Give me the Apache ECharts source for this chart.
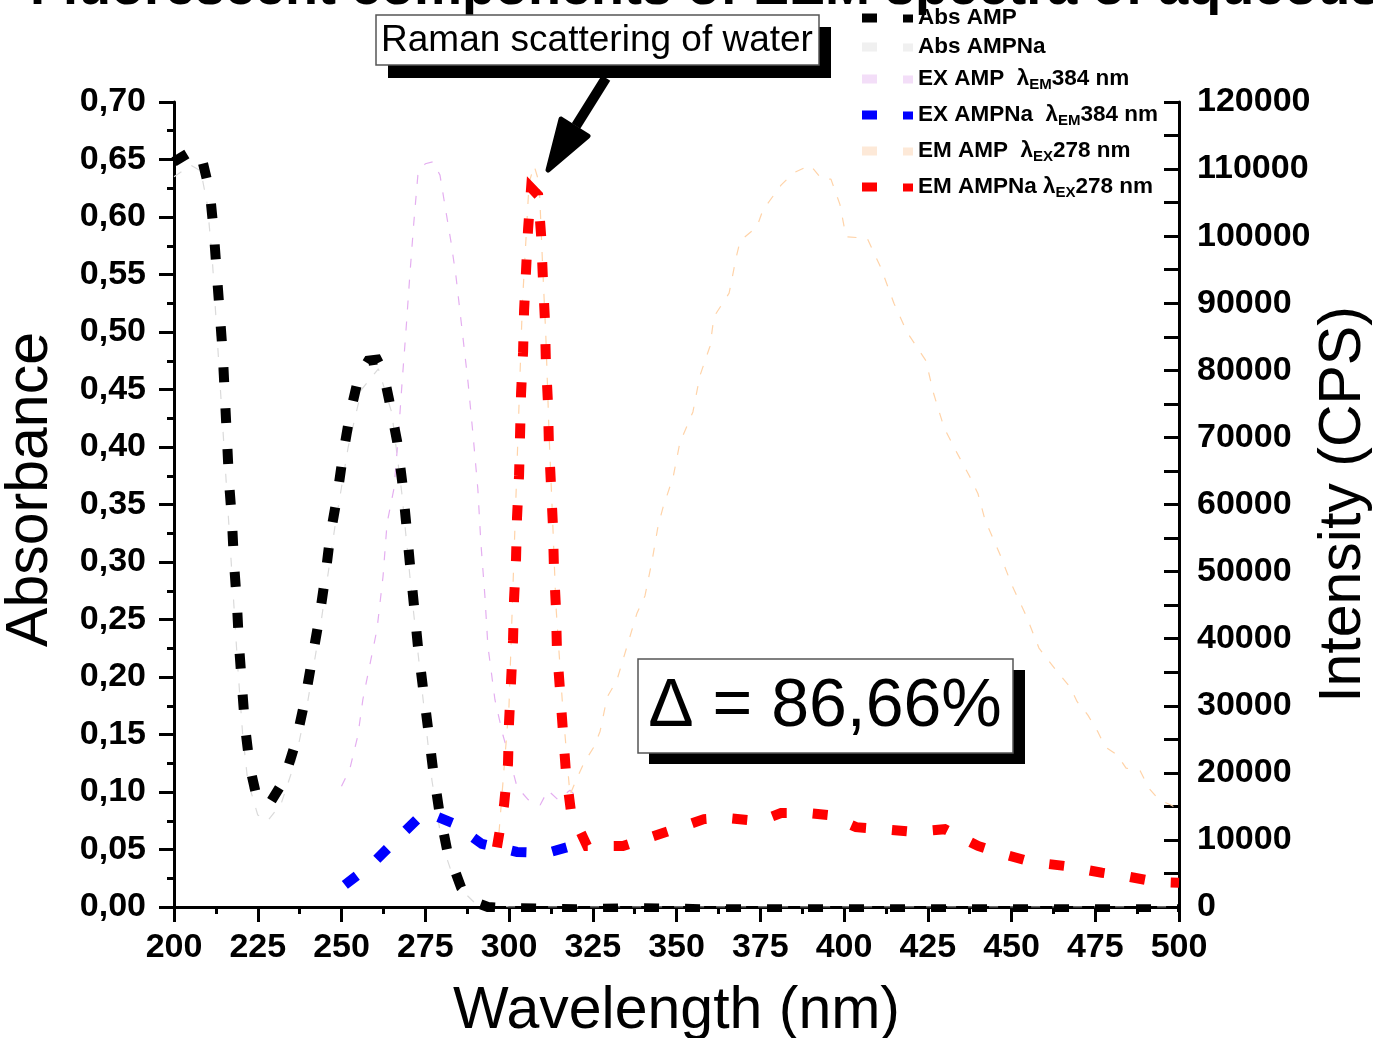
<!DOCTYPE html>
<html><head><meta charset="utf-8">
<script src="https://cdn.jsdelivr.net/npm/echarts@6/dist/echarts.min.js"></script>
<style>html,body{margin:0;padding:0;background:#fff}#c{width:1373px;height:1038px}</style>
</head><body><div id="c"></div>
<script>
// ---- data: [wavelength nm, value] ----
const absAMP = [[200,0.648],[204,0.655],[207.8,0.657],[210.7,0.622],[211.9,0.586],[212.8,0.550],[213.7,0.515],[214.6,0.479],[215.2,0.443],[215.8,0.408],[216.4,0.371],[217.3,0.336],[217.9,0.300],[218.8,0.263],[219.4,0.228],[220.3,0.192],[221.2,0.157],[222.7,0.121],[224.5,0.098],[226.3,0.089],[229,0.092],[232.8,0.110],[236.4,0.144],[239.1,0.180],[241.2,0.215],[243.3,0.250],[245.1,0.286],[246.6,0.322],[248.7,0.357],[250.4,0.392],[252.5,0.428],[255.2,0.462],[258,0.475],[260.6,0.476],[262.5,0.465],[264.2,0.441],[266.6,0.405],[268.1,0.370],[269.3,0.334],[270.4,0.299],[271.6,0.263],[272.8,0.227],[274.3,0.191],[275.8,0.156],[277.3,0.120],[279.1,0.085],[281.5,0.050],[285.7,0.017],[290,0.004],[293.7,0.0],[300,-0.001],[320,-0.002],[340,-0.001],[360,-0.002],[380,-0.002],[400,-0.002],[420,-0.002],[440,-0.002],[460,-0.002],[480,-0.002],[500,-0.002]];
const absAMPNa = [[200,0.635],[205,0.645],[208,0.640],[210,0.610],[211.5,0.560],[213,0.490],[214.5,0.420],[216,0.350],[217.5,0.280],[219,0.210],[220.5,0.150],[222,0.110],[225,0.080],[228,0.075],[232,0.090],[236,0.125],[240,0.180],[244,0.250],[248,0.330],[252,0.400],[256,0.450],[261,0.468],[265,0.430],[268,0.360],[271,0.270],[274,0.190],[277,0.110],[280,0.055],[284,0.020],[290,0.003],[300,0.0],[350,0.0],[400,0.0],[450,0.0],[500,0.0]];
const exAMP = [[250,18000],[252.5,20600],[254.9,25600],[256.4,31000],[258.5,36200],[260.6,41400],[262.4,49300],[263.6,57200],[265.7,62500],[267,70400],[268.1,78300],[269.3,86300],[270.4,94200],[271.6,102100],[272.8,109100],[275,110800],[277.3,111100],[279.4,109100],[280.9,104500],[282.7,99100],[284.2,93900],[286,86000],[287.8,78100],[289.3,70200],[290.7,62300],[291.6,54300],[292.8,46400],[293.7,38900],[295.8,30900],[298.2,25600],[300.3,21900],[302.4,17900],[305.7,16000],[309.3,15200],[311.6,17400],[314.6,16000],[318.2,17400],[321.2,16000]];
const exAMPNa = [[251,3300],[259.1,6400],[267.5,10600],[274.9,14200],[283.3,12500],[291.9,9400],[302.4,8200],[311.3,8050],[320.9,9400]];
const emAMP = [[297,11000],[300,30000],[302,60000],[304,90000],[306,108000],[307.5,110500],[309,108000],[310,96000],[311,85000],[312,70000],[313,58000],[314,45000],[316,30000],[318.2,16700],[320,18900],[322.4,21500],[325.4,23900],[327.2,26200],[329.3,31300],[332.2,33800],[335.2,38800],[338.2,43800],[340.6,46400],[342.7,51600],[344.5,56800],[346,59600],[349,64100],[351,69200],[354.9,73800],[357,79200],[360,83600],[361.2,88000],[365.7,91500],[367.8,96800],[369,99300],[374,101400],[375.8,103900],[381.2,107600],[384.8,109400],[389.9,110600],[393.4,108500],[396.1,108500],[398.8,104700],[400.6,99900],[406.9,99700],[411,95300],[414.9,90000],[418.8,85700],[424.5,81400],[426.6,76800],[429.9,71400],[433.4,68000],[437.6,64100],[440,61600],[442.1,57700],[446.6,52500],[450.1,48000],[454.3,43500],[458.2,38600],[463.9,34900],[467.5,32800],[469.6,30600],[472.8,28600],[475.8,26100],[477.9,23900],[481.5,22700],[484.2,20700],[488.4,20300],[491,17700],[494,16000],[497.6,15200],[500,14500]];
const emAMPNa = [[296.4,8900],[298.5,15100],[299.7,21300],[300,27400],[300.6,33500],[301.2,39700],[301.5,45800],[302.1,51900],[302.4,58100],[303,64300],[303.3,70400],[303.6,76600],[304.2,82700],[304.5,88900],[305.1,95000],[305.7,101100],[306.6,107200],[308.7,106100],[309.6,100000],[310.1,93900],[310.7,87700],[311,81500],[311.6,75400],[311.9,69300],[312.5,63200],[313.1,57000],[313.4,50800],[314,44700],[314.3,38600],[315.2,32500],[316.1,26200],[317,20100],[318.5,14200],[323.3,9100],[334,9100],[342.1,10400],[350.7,11800],[358.2,13100],[364.2,13300],[374.9,12800],[381.2,14000],[389.6,14000],[395.5,13700],[403.6,11900],[411.6,11600],[420.6,11200],[430.1,11600],[440,9100],[448.1,7800],[456.1,6700],[466.3,6100],[477,5100],[485.1,4500],[493.7,3700],[500,3600]];

const seriesNames = ['Abs AMP','Abs AMPNa','EX AMP λEM384 nm','EX AMPNa λEM384 nm','EM AMP λEX278 nm','EM AMPNa λEX278 nm'];
const legendRich = {
  'Abs AMP':'Abs AMP',
  'Abs AMPNa':'Abs AMPNa',
  'EX AMP λEM384 nm':'EX AMP  λ{sub|EM}384 nm',
  'EX AMPNa λEM384 nm':'EX AMPNa  λ{sub|EM}384 nm',
  'EM AMP λEX278 nm':'EM AMP  λ{sub|EX}278 nm',
  'EM AMPNa λEX278 nm':'EM AMPNa λ{sub|EX}278 nm'
};
const titleText = 'Fluorescent components of EEM spectra of aqueous';
const xName = 'Wavelength (nm)', yLeftName = 'Absorbance', yRightName = 'Intensity (CPS)';
const ramanText = 'Raman scattering of water';
const deltaText = 'Δ = 86,66%';

const FONT = 'Liberation Sans, Arial, sans-serif';
const chart = echarts.init(document.getElementById('c'), null, {renderer:'canvas'});

const thick = (color) => ({color, width:10, type:[15,26], cap:'butt', join:'miter'});
const faint = (color) => ({color, width:1.2, type:[9,12]});
const iconPath = 'path://M0,0h15v9h-15z M41,1h10v8h-10z';
const iconColors = {1:'#f0f0f0', 2:'#f3def8', 4:'#fde9d8'};

const axisTxt = {fontFamily:FONT, fontSize:34, fontWeight:'bold', color:'#000'};
const nameTxt = {fontFamily:FONT, fontSize:59, fontWeight:'normal', color:'#000'};
const legendText = {fontFamily:FONT, fontSize:22.5, fontWeight:'bold', color:'#000', lineHeight:24,
  rich:{sub:{fontFamily:FONT, fontSize:15, fontWeight:'bold', color:'#000', lineHeight:20, padding:[11,0,0,0]}}};
const legendBase = {orient:'vertical', left:862, itemWidth:51, itemHeight:9, padding:0, icon:iconPath,
  formatter:(n)=>legendRich[n], textStyle:legendText};
const legendItems = (idx) => idx.map(i=>({name:seriesNames[i], itemStyle: iconColors[i] ? {color:iconColors[i]} : undefined}));

chart.setOption({
  animation:false,
  backgroundColor:'#fff',
  title:{text:titleText, left:30, top:-38, padding:0,
    textStyle:{fontFamily:FONT, fontSize:54, fontWeight:'bold', color:'#000', lineHeight:54}},
  legend:[
    {...legendBase, top:6, itemGap:5, data:legendItems([0,1])},
    {...legendBase, top:66, itemGap:10, data:legendItems([2,3,4,5])}
  ],
  grid:{left:174, right:194, top:102, bottom:131, containLabel:false, outerBoundsMode:'none'},
  xAxis:{type:'value', min:200, max:500, interval:25,
    name:xName, nameLocation:'middle', nameGap:75, nameTextStyle:nameTxt,
    axisLine:{show:true, onZero:false, lineStyle:{color:'#000', width:3}},
    axisTick:{show:true, length:15, lineStyle:{color:'#000', width:3}},
    minorTick:{show:true, splitNumber:2, length:7, lineStyle:{color:'#000', width:3}},
    axisLabel:{...axisTxt, margin:24},
    splitLine:{show:false}
  },
  yAxis:[
    {type:'value', position:'left', min:0, max:0.7, interval:0.05,
      name:yLeftName, nameLocation:'middle', nameGap:114, nameRotate:90,
      nameTextStyle:{...nameTxt, padding:[0,0,0,30]},
      axisLine:{show:true, onZero:false, lineStyle:{color:'#000', width:3}},
      axisTick:{show:true, length:15, lineStyle:{color:'#000', width:3}},
      minorTick:{show:true, splitNumber:2, length:7, lineStyle:{color:'#000', width:3}},
      axisLabel:{...axisTxt, margin:28, formatter:(v)=>v.toFixed(2).replace('.',',')},
      splitLine:{show:false}
    },
    {type:'value', position:'right', min:0, max:120000, interval:10000,
      name:yRightName, nameLocation:'middle', nameGap:135, nameRotate:90, nameMoveOverlap:false, nameTextStyle:nameTxt,
      axisLine:{show:true, onZero:false, lineStyle:{color:'#000', width:3}},
      axisTick:{show:true, inside:true, length:15, lineStyle:{color:'#000', width:3}},
      minorTick:{show:true, splitNumber:2, length:15, lineStyle:{color:'#000', width:3}},
      axisLabel:{...axisTxt, margin:18, formatter:(v)=>String(v)},
      splitLine:{show:false}
    }
  ],
  series:[
    {name:seriesNames[0], type:'line', yAxisIndex:0, data:absAMP, showSymbol:false, symbol:'none', z:6, lineStyle:thick('#000000'), itemStyle:{color:'#000000'}},
    {name:seriesNames[1], type:'line', yAxisIndex:0, data:absAMPNa, showSymbol:false, symbol:'none', z:2, lineStyle:faint('#dadada'), itemStyle:{color:'#dadada'}},
    {name:seriesNames[2], type:'line', yAxisIndex:1, data:exAMP, showSymbol:false, symbol:'none', z:2, lineStyle:faint('#e4aef0'), itemStyle:{color:'#e4aef0'}},
    {name:seriesNames[3], type:'line', yAxisIndex:1, data:exAMPNa, showSymbol:false, symbol:'none', z:4, lineStyle:thick('#0000ff'), itemStyle:{color:'#0000ff'}},
    {name:seriesNames[4], type:'line', yAxisIndex:1, data:emAMP, showSymbol:false, symbol:'none', z:2, lineStyle:faint('#ffd3a8'), itemStyle:{color:'#ffd3a8'}},
    {name:seriesNames[5], type:'line', yAxisIndex:1, data:emAMPNa, showSymbol:false, symbol:'none', z:5, lineStyle:thick('#ff0000'), itemStyle:{color:'#ff0000'}}
  ],
  graphic:[
    {type:'rect', z:100, shape:{x:388, y:27, width:443, height:51}, style:{fill:'#000'}},
    {type:'rect', z:101, shape:{x:376, y:15, width:443, height:50}, style:{fill:'#fff', stroke:'#555', lineWidth:1.5}},
    {type:'text', z:102, x:597, y:41, style:{text:ramanText, fontFamily:FONT, fontSize:37, fill:'#000', align:'center', verticalAlign:'middle'}},
    {type:'line', z:100, shape:{x1:606, y1:78, x2:576, y2:126}, style:{stroke:'#000', lineWidth:10}},
    {type:'polygon', z:100, shape:{points:[[548,170],[561,119],[588,136]]}, style:{fill:'#000', stroke:'#000', lineWidth:5, lineJoin:'round'}},
    {type:'rect', z:100, shape:{x:649, y:670, width:376, height:94}, style:{fill:'#000'}},
    {type:'rect', z:101, shape:{x:638, y:659, width:375, height:94}, style:{fill:'#fff', stroke:'#555', lineWidth:1.5}},
    {type:'text', z:102, x:825, y:707, style:{text:deltaText, fontFamily:FONT, fontSize:68, fill:'#000', align:'center', verticalAlign:'middle'}}
  ]
});
</script></body></html>
